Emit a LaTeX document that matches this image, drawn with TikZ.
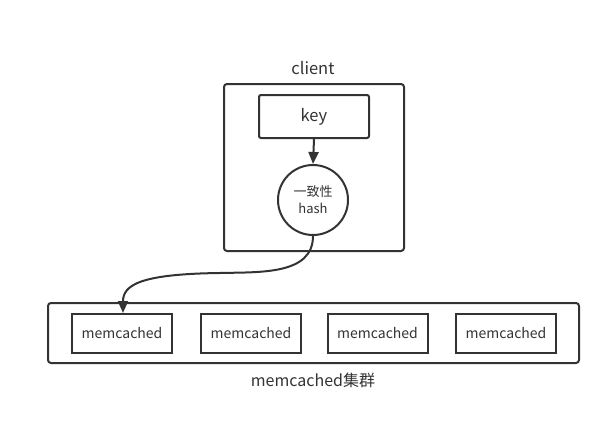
\documentclass[tikz,border=0pt]{standalone}
\usepackage{fontspec}
\setmainfont{Noto Sans CJK SC}
\usetikzlibrary{arrows.meta}
\definecolor{ln}{HTML}{333333}
\begin{document}
\begin{tikzpicture}[x=1pt,y=-1pt,
  box/.style={draw=ln,line width=2pt,rounded corners=3pt},
  sbox/.style={draw=ln,line width=2pt},
  conn/.style={draw=ln,line width=2pt,-{Triangle[length=12pt,width=10pt]}},
  lbl/.style={text=ln,inner sep=0pt}]
\useasboundingbox (0,0) rectangle (611,431);
% client
\draw[box] (224,84) rectangle (404,251);
\node[lbl,font=\fontsize{16.5}{19}\selectfont] (clientlbl) at (313,68) {client};
\node[sbox,rounded corners=2pt,minimum width=110pt,minimum height=43pt,font=\fontsize{16.5}{19}\selectfont,text=ln] (key) at (314,116.5) {key};
\node[draw=ln,line width=2pt,circle,minimum size=70pt,inner sep=0pt,align=center,font=\fontsize{13}{17}\selectfont,text=ln] (hash) at (313,200) {一致性\\hash};
\draw[conn] (key.south) -- (hash.north);
% cluster
\draw[box] (48,303) rectangle (579,363);
\node[lbl,font=\fontsize{16}{19}\selectfont] (clusterlbl) at (313,380) {memcached集群};
\foreach \n/\x in {m1/122,m2/251,m3/377.5,m4/506}{
  \node[sbox,minimum width=100pt,minimum height=39pt,font=\fontsize{14}{16}\selectfont,text=ln] (\n) at (\x,333.5) {memcached};
}
\draw[conn] (hash.south) .. controls (313,275) and (260,272) .. (220,273) .. controls (140,274) and (123,285) .. (m1.north -| 123,0);
\end{tikzpicture}
\end{document}
